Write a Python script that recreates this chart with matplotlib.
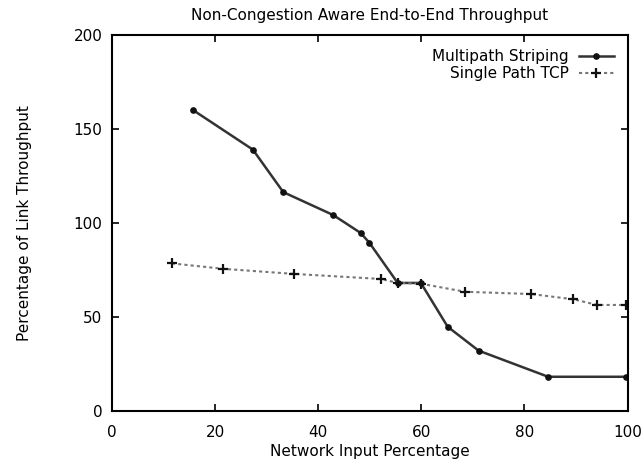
import matplotlib
matplotlib.use('Agg')
import matplotlib.pyplot as plt

plt.rcParams['font.family'] = ['DejaVu Sans']

# Multipath striping
mp_x = [15.6, 27.3, 33.2, 42.9, 48.2, 49.9, 55.4, 59.9, 65.1, 71.1, 84.6, 99.7]
mp_y = [160.3, 139.1, 116.5, 104.3, 94.8, 89.6, 68.2, 68.2, 44.9, 32.2, 18.3, 18.3]

# Single path TCP
sp_x = [11.6, 21.6, 35.3, 52.2, 55.4, 59.9, 68.5, 81.3, 89.5, 94.1, 99.7]
sp_y = [78.6, 75.7, 73.0, 70.3, 68.2, 67.8, 63.5, 62.3, 59.5, 56.5, 56.5]

x_ticks = [0, 20, 40, 60, 80, 100]
y_ticks = [0, 50, 100, 150, 200]

fig = plt.figure(figsize=(6.41, 4.62), dpi=100)
ax = fig.add_axes([0.175, 0.11, 0.804, 0.814])

ax.plot(mp_x, mp_y, color='#333333', lw=1.8, marker='o', ms=3.8,
        mfc='#111111', mec='#111111', label='Multipath Striping')
ax.plot(sp_x, sp_y, color='#777777', lw=1.5, ls=(0, (1.5, 1.5)), marker='+',
        ms=7, mew=1.6, mec='#111111', label='Single Path TCP')

ax.set_xlim(0, 100)
ax.set_ylim(0, 200)
ax.set_xticks(x_ticks)
ax.set_yticks(y_ticks)
ax.tick_params(direction='in', top=True, right=True, length=5, width=1.2,
               labelsize=11, pad=7)
ax.tick_params(axis='x', pad=10)
for s in ax.spines.values():
    s.set_linewidth(1.5)

ax.set_title('Non-Congestion Aware End-to-End Throughput', fontsize=11, pad=11)
ax.set_xlabel('Network Input Percentage', fontsize=11, labelpad=3)
ax.set_ylabel('Percentage of Link Throughput', fontsize=11, labelpad=30)

ax.legend(loc='upper right', frameon=False, markerfirst=False, fontsize=11,
          handlelength=2.3, handletextpad=0.65, borderaxespad=0.5,
          labelspacing=0.15)

fig.savefig('out.png', dpi=100)
